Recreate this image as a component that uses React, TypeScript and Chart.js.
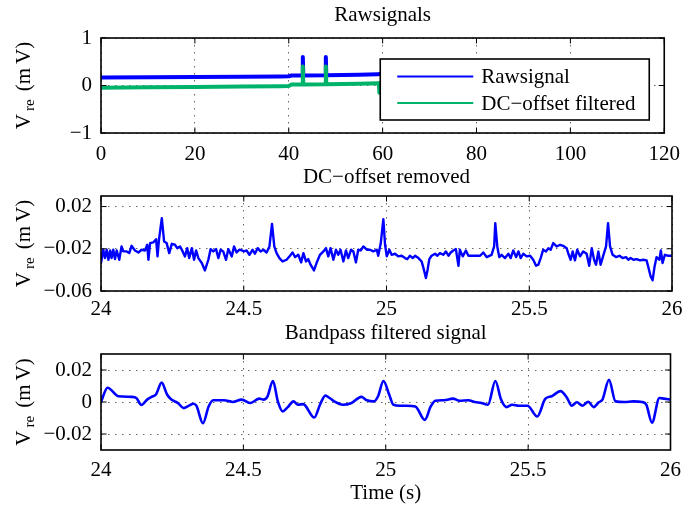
import React, { useEffect, useRef } from "react";
import { Chart, registerables } from "chart.js";

Chart.register(...registerables);

const FONT = '"Liberation Serif", "Times New Roman", Times, serif';
const W = 689;
const H = 509;
const PLOT_LEFT = 101;
const PLOT_RIGHT = 672;

// ---------- Panel 1: raw signals (0-60 s) ----------
const rawTime = [0, 10, 20, 30, 38, 40, 40.6, 42.9, 43.0, 43.1, 47.8, 47.9, 48.0, 55, 59.0, 59.2, 59.3, 59.5, 60];
const rawSignal = [0.17, 0.175, 0.18, 0.185, 0.19, 0.195, 0.21, 0.21, 0.6, 0.21, 0.215, 0.6, 0.215, 0.225, 0.235, 0.24, 0.24, 0.24, 0.24];
const dcFiltered = [-0.045, -0.035, -0.03, -0.02, -0.015, -0.01, 0.02, 0.02, 0.4, 0.02, 0.025, 0.4, 0.025, 0.035, 0.045, 0.05, -0.15, 0.05, 0.05];

// ---------- Panel 2: DC-offset removed (24-26 s) ----------
const dcTime = [
  24.0, 24.008, 24.014, 24.020, 24.026, 24.032, 24.037, 24.043, 24.049, 24.055,
  24.064, 24.072, 24.078, 24.090, 24.099, 24.107, 24.119, 24.131, 24.142, 24.154,
  24.162, 24.166, 24.172, 24.183, 24.193, 24.198, 24.203, 24.213, 24.221, 24.230,
  24.239, 24.248, 24.259, 24.267, 24.277, 24.286, 24.294, 24.302, 24.309, 24.318,
  24.326, 24.333, 24.341, 24.353, 24.364, 24.376, 24.384, 24.393, 24.403, 24.411,
  24.419, 24.428, 24.438, 24.446, 24.458, 24.466, 24.475, 24.485, 24.493, 24.501,
  24.510, 24.520, 24.531, 24.539, 24.549, 24.559, 24.569, 24.580, 24.590, 24.599,
  24.607, 24.615, 24.625, 24.636, 24.650, 24.662, 24.671, 24.680, 24.691, 24.701,
  24.709, 24.718, 24.726, 24.734, 24.746, 24.755, 24.767, 24.779, 24.788, 24.796,
  24.804, 24.814, 24.823, 24.831, 24.839, 24.849, 24.858, 24.866, 24.876, 24.884,
  24.893, 24.901, 24.910, 24.919, 24.931, 24.942, 24.954, 24.966, 24.971, 24.980,
  24.989, 24.995, 25.001, 25.010, 25.018, 25.030, 25.041, 25.053, 25.065, 25.073,
  25.082, 25.092, 25.100, 25.112, 25.123, 25.131, 25.138, 25.144, 25.150, 25.158,
  25.170, 25.178, 25.187, 25.199, 25.208, 25.217, 25.225, 25.234, 25.243, 25.252,
  25.257, 25.267, 25.278, 25.287, 25.304, 25.328, 25.339, 25.351, 25.368, 25.377,
  25.381, 25.388, 25.395, 25.403, 25.415, 25.427, 25.435, 25.444, 25.454, 25.462,
  25.470, 25.479, 25.491, 25.503, 25.514, 25.524, 25.532, 25.540, 25.549, 25.559,
  25.567, 25.575, 25.584, 25.596, 25.608, 25.619, 25.631, 25.637, 25.645, 25.652,
  25.660, 25.668, 25.678, 25.689, 25.701, 25.710, 25.719, 25.727, 25.734, 25.742,
  25.750, 25.760, 25.769, 25.776, 25.783, 25.792, 25.804, 25.816, 25.827, 25.839,
  25.847, 25.855, 25.865, 25.876, 25.888, 25.900, 25.911, 25.918, 25.925, 25.932,
  25.939, 25.946, 25.956, 25.961, 25.967, 25.975, 25.987, 26.0,
];
const dcRemoved = [
  -0.0335, -0.0209, -0.0288, -0.0209, -0.0304, -0.0216, -0.0288, -0.0209, -0.0298, -0.0216,
  -0.0304, -0.0178, -0.0225, -0.0225, -0.0241, -0.0172, -0.0216, -0.0235, -0.0209, -0.0216,
  -0.0162, -0.0304, -0.0146, -0.0140, -0.0109, -0.0272, -0.0115, 0.0090, -0.0131, -0.0146,
  -0.0241, -0.0153, -0.0162, -0.0194, -0.0178, -0.0225, -0.0272, -0.0194, -0.0288, -0.0194,
  -0.0304, -0.0216, -0.0288, -0.0335, -0.0405, -0.0304, -0.0203, -0.0225, -0.0203, -0.0288,
  -0.0209, -0.0225, -0.0304, -0.0203, -0.0272, -0.0178, -0.0235, -0.0209, -0.0216, -0.0225,
  -0.0216, -0.0257, -0.0209, -0.0247, -0.0194, -0.0225, -0.0209, -0.0235, -0.0178, 0.0036,
  -0.0178, -0.0241, -0.0288, -0.0320, -0.0304, -0.0266, -0.0235, -0.0279, -0.0257, -0.0329,
  -0.0241, -0.0320, -0.0298, -0.0351, -0.0405, -0.0335, -0.0257, -0.0225, -0.0194, -0.0272,
  -0.0194, -0.0304, -0.0209, -0.0257, -0.0209, -0.0320, -0.0216, -0.0288, -0.0209, -0.0225,
  -0.0329, -0.0209, -0.0216, -0.0178, -0.0209, -0.0209, -0.0225, -0.0209, -0.0266, -0.0146,
  0.0080, -0.0162, -0.0272, -0.0209, -0.0257, -0.0247, -0.0272, -0.0266, -0.0288, -0.0298,
  -0.0266, -0.0288, -0.0266, -0.0288, -0.0320, -0.0398, -0.0477, -0.0398, -0.0298, -0.0266,
  -0.0247, -0.0266, -0.0241, -0.0257, -0.0225, -0.0266, -0.0235, -0.0216, -0.0203, -0.0361,
  -0.0209, -0.0272, -0.0216, -0.0266, -0.0266, -0.0266, -0.0235, -0.0279, -0.0257, -0.0178,
  0.0043, -0.0178, -0.0279, -0.0257, -0.0288, -0.0247, -0.0288, -0.0216, -0.0279, -0.0225,
  -0.0288, -0.0247, -0.0272, -0.0266, -0.0304, -0.0361, -0.0351, -0.0288, -0.0209, -0.0225,
  -0.0194, -0.0209, -0.0146, -0.0178, -0.0162, -0.0172, -0.0194, -0.0247, -0.0304, -0.0225,
  -0.0310, -0.0209, -0.0272, -0.0225, -0.0247, -0.0361, -0.0194, -0.0304, -0.0351, -0.0225,
  -0.0351, -0.0257, -0.0178, 0.0043, -0.0178, -0.0257, -0.0279, -0.0266, -0.0288, -0.0279,
  -0.0304, -0.0288, -0.0304, -0.0298, -0.0310, -0.0304, -0.0310, -0.0383, -0.0461, -0.0499,
  -0.0367, -0.0279, -0.0304, -0.0216, -0.0335, -0.0257, -0.0266, -0.0266,
];

// ---------- Panel 3: bandpass filtered (24-26 s) ----------
const bandTime = [
  24.000, 24.023, 24.062, 24.108, 24.124, 24.142, 24.162, 24.178, 24.193, 24.213,
  24.232, 24.247, 24.270, 24.290, 24.309, 24.324, 24.335, 24.358, 24.378, 24.394,
  24.432, 24.463, 24.494, 24.525, 24.556, 24.571, 24.584, 24.604, 24.621, 24.638,
  24.656, 24.676, 24.692, 24.710, 24.749, 24.769, 24.788, 24.803, 24.819, 24.849,
  24.880, 24.914, 24.934, 24.958, 24.973, 24.992, 25.012, 25.027, 25.050, 25.073,
  25.104, 25.137, 25.158, 25.174, 25.205, 25.236, 25.259, 25.290, 25.313, 25.336,
  25.359, 25.385, 25.405, 25.424, 25.444, 25.467, 25.498, 25.532, 25.560, 25.583,
  25.614, 25.637, 25.653, 25.671, 25.691, 25.711, 25.730, 25.748, 25.761, 25.784,
  25.807, 25.838, 25.869, 25.900, 25.915, 25.935, 25.961, 25.977, 26.000,
];
const bandFiltered = [
  0, 0.0089, 0.0036, 0.0032, 0.0025, -0.0019, 0.0015, 0.0032, 0.0047, 0.0121,
  0.0047, 0.0015, -0.0006, -0.0038, -0.0023, -0.0011, -0.0023, -0.0133, -0.0028, 0.0011,
  0.0011, 0, 0.0015, -0.0006, 0.0021, 0.0015, 0.0032, 0.0131, 0.0004, -0.0059,
  -0.0032, 0.0004, -0.0017, -0.0013, -0.0097, -0.0017, 0.004, 0.0025, 0.0004, -0.0017,
  -0.0006, 0.0032, 0.0011, 0.0004, 0.0036, 0.0131, 0.0047, -0.0017, -0.0023, -0.0023,
  -0.0028, -0.0112, -0.0028, 0.0008, 0.0011, 0.0021, 0.0008, 0.0011, 0, -0.0006,
  -0.0017, 0.0131, 0.0015, -0.0032, -0.0017, -0.0023, -0.0023, -0.0091, 0.0019, 0.0036,
  0.0068, 0.0025, -0.0023, -0.0002, -0.0023, 0.0002, -0.0032, -0.0002, 0.0015, 0.0138,
  0.0004, 0, 0.0004, 0, -0.0017, -0.0129, 0.0025, 0.0021, 0.0015,
];

// ---------- ticks & labels ----------
const rawXTicks = [0, 20, 40, 60, 80, 100, 120];
const rawYTicks = [-1, 0, 1];
const zoomXTicks = [24, 24.5, 25, 25.5, 26];
const dcYTicks = [-0.06, -0.02, 0.02];
const bandYTicks = [-0.02, 0, 0.02];

const panelTitles = ["Rawsignals", "DC\u2212offset removed", "Bandpass filtered signal"];
const seriesLabels = ["Rawsignal", "DC\u2212offset filtered"];
const timeLabel = "Time (s)";

const BLUE = "#0000ff";
const GREEN = "#00b36b";

type Series = { label: string; x: number[]; y: number[]; color: string; width: number; smooth?: boolean; order?: number };
type Spec = {
  top: number; bottom: number; titleY: number; title: string;
  xMin: number; xMax: number; yMin: number; yMax: number;
  xTicks: number[]; yTicks: number[]; series: Series[];
  legend?: boolean; xTitle?: string; xTitleY?: number; xPad: number;
};

const specs: Spec[] = [
  {
    top: 38, bottom: 133, titleY: 15, title: panelTitles[0],
    xMin: 0, xMax: 120, yMin: -1, yMax: 1, xTicks: rawXTicks, yTicks: rawYTicks,
    series: [
      { label: seriesLabels[0], x: rawTime, y: rawSignal, color: BLUE, width: 4, order: 1 },
      { label: seriesLabels[1], x: rawTime, y: dcFiltered, color: GREEN, width: 4, order: 0 },
    ],
    legend: true, xPad: 9,
  },
  {
    top: 196, bottom: 291, titleY: 177, title: panelTitles[1],
    xMin: 24, xMax: 26, yMin: -0.06, yMax: 0.03, xTicks: zoomXTicks, yTicks: dcYTicks,
    series: [{ label: "dc", x: dcTime, y: dcRemoved, color: BLUE, width: 2.4 }],
    xPad: 6,
  },
  {
    top: 354, bottom: 450, titleY: 333, title: panelTitles[2],
    xMin: 24, xMax: 26, yMin: -0.03, yMax: 0.03, xTicks: zoomXTicks, yTicks: bandYTicks,
    series: [{ label: "band", x: bandTime, y: bandFiltered, color: BLUE, width: 2.6, smooth: true }],
    xTitle: timeLabel, xTitleY: 493, xPad: 8,
  },
];

const fmt = (v: number) => {
  const s = String(Math.abs(+Number(v).toFixed(4)));
  return v < 0 ? "\u2212" + s : s;
};

function drawYLabel(ctx: CanvasRenderingContext2D, cx: number, cy: number) {
  ctx.save();
  ctx.translate(cx, cy);
  ctx.rotate(-Math.PI / 2);
  ctx.fillStyle = "#000";
  ctx.textAlign = "left";
  ctx.textBaseline = "alphabetic";
  const big = `21px ${FONT}`;
  const small = `15px ${FONT}`;
  const parts = [
    { t: "V", f: big, dy: 0, gap: 3 },
    { t: "re", f: small, dy: 4, gap: 8 },
    { t: "(m", f: big, dy: 0, gap: 4 },
    { t: "V)", f: big, dy: 0, gap: 0 },
  ];
  let total = 0;
  for (const p of parts) { ctx.font = p.f; total += ctx.measureText(p.t).width + p.gap; }
  let x = -total / 2;
  const base = 7;
  for (const p of parts) {
    ctx.font = p.f;
    ctx.fillText(p.t, x, base + p.dy);
    x += ctx.measureText(p.t).width + p.gap;
  }
  ctx.restore();
}

function makeFramePlugin(spec: Spec) {
  return {
    id: "matlabFrame",
    afterDatasetsDraw(chart: any) {
      const ctx: CanvasRenderingContext2D = chart.ctx;
      const a = chart.chartArea;
      const xs = chart.scales.x;
      const ys = chart.scales.y;
      ctx.save();
      if (spec.legend) {
        const lx = a.right - 284;
        const ly = a.top + 21;
        const lw = 269;
        const lh = 61;
        ctx.fillStyle = "#fff";
        ctx.fillRect(lx, ly, lw, lh);
        ctx.lineWidth = 1.6;
        ctx.strokeStyle = "#000";
        ctx.strokeRect(lx, ly, lw, lh);
        spec.series.forEach((s, i) => {
          const yy = ly + 17.5 + i * 26.5;
          ctx.strokeStyle = s.color;
          ctx.lineWidth = 2.2;
          ctx.beginPath();
          ctx.moveTo(lx + 17, yy);
          ctx.lineTo(lx + 93, yy);
          ctx.stroke();
          ctx.fillStyle = "#000";
          ctx.font = `21px ${FONT}`;
          ctx.textAlign = "left";
          ctx.textBaseline = "middle";
          ctx.fillText(s.label, lx + 101, yy + 1);
        });
      }
      const TL = 5.5;
      ctx.strokeStyle = "#000";
      ctx.lineWidth = 1;
      ctx.beginPath();
      for (const v of spec.xTicks) {
        const px = xs.getPixelForValue(v);
        ctx.moveTo(px, a.bottom); ctx.lineTo(px, a.bottom - TL);
        ctx.moveTo(px, a.top); ctx.lineTo(px, a.top + TL);
      }
      for (const v of spec.yTicks) {
        const py = ys.getPixelForValue(v);
        ctx.moveTo(a.left, py); ctx.lineTo(a.left + TL, py);
        ctx.moveTo(a.right, py); ctx.lineTo(a.right - TL, py);
      }
      ctx.stroke();
      ctx.lineWidth = 1.6;
      ctx.strokeRect(a.left, a.top, a.right - a.left, a.bottom - a.top);
      ctx.restore();
    },
    afterDraw(chart: any) {
      const ctx: CanvasRenderingContext2D = chart.ctx;
      const a = chart.chartArea;
      ctx.save();
      ctx.fillStyle = "#000";
      ctx.font = `21px ${FONT}`;
      ctx.textAlign = "center";
      ctx.textBaseline = "middle";
      ctx.fillText(spec.title, (a.left + a.right) / 2, spec.titleY);
      if (spec.xTitle) ctx.fillText(spec.xTitle, (a.left + a.right) / 2, spec.xTitleY as number);
      ctx.restore();
      drawYLabel(ctx, 23, (a.top + a.bottom) / 2);
    },
  };
}

function buildConfig(spec: Spec): any {
  const tickFont = { family: FONT, size: 21 };
  return {
    type: "line",
    data: {
      datasets: spec.series.map((s) => ({
        label: s.label,
        data: s.x.map((x, i) => ({ x, y: s.y[i] })),
        borderColor: s.color,
        backgroundColor: s.color,
        borderWidth: s.width,
        pointRadius: 0,
        fill: false,
        order: s.order ?? 0,
        borderJoinStyle: "round",
        borderCapStyle: "round",
        cubicInterpolationMode: s.smooth ? "monotone" : "default",
        tension: 0,
      })),
    },
    options: {
      animation: false,
      responsive: false,
      devicePixelRatio: 1,
      events: [],
      layout: { padding: { left: 0, right: W - PLOT_RIGHT, top: spec.top, bottom: 0 } },
      plugins: { legend: { display: false }, title: { display: false }, tooltip: { enabled: false } },
      scales: {
        x: {
          type: "linear",
          min: spec.xMin,
          max: spec.xMax,
          afterBuildTicks: (s: any) => { s.ticks = spec.xTicks.map((v) => ({ value: v })); },
          afterFit: (s: any) => { s.height = H - spec.bottom; },
          ticks: { font: tickFont, color: "#000", padding: spec.xPad, maxRotation: 0, autoSkip: false, callback: (v: any) => fmt(Number(v)) },
          grid: { color: "rgba(0,0,0,0.6)", lineWidth: 1, drawTicks: false },
          border: { display: false, dash: [1.5, 5.5] },
        },
        y: {
          type: "linear",
          min: spec.yMin,
          max: spec.yMax,
          afterBuildTicks: (s: any) => { s.ticks = spec.yTicks.map((v) => ({ value: v })); },
          afterFit: (s: any) => { s.width = PLOT_LEFT; },
          ticks: { font: tickFont, color: "#000", padding: 9, autoSkip: false, callback: (v: any) => fmt(Number(v)) },
          grid: { color: "rgba(0,0,0,0.6)", lineWidth: 1, drawTicks: false },
          border: { display: false, dash: [1.5, 5.5] },
        },
      },
    },
    plugins: [makeFramePlugin(spec)],
  };
}

function Panel({ spec }: { spec: Spec }) {
  const ref = useRef<HTMLCanvasElement>(null);
  useEffect(() => {
    const chart = new Chart(ref.current as HTMLCanvasElement, buildConfig(spec));
    return () => chart.destroy();
  }, [spec]);
  return (
    <canvas
      ref={ref}
      width={W}
      height={H}
      style={{ position: "absolute", left: 0, top: 0, width: W, height: H, display: "block" }}
    />
  );
}

export default function App() {
  return (
    <div style={{ position: "fixed", left: 0, top: 0, width: W, height: H, background: "#fff", overflow: "hidden" }}>
      {specs.map((s, i) => (
        <Panel key={i} spec={s} />
      ))}
    </div>
  );
}
